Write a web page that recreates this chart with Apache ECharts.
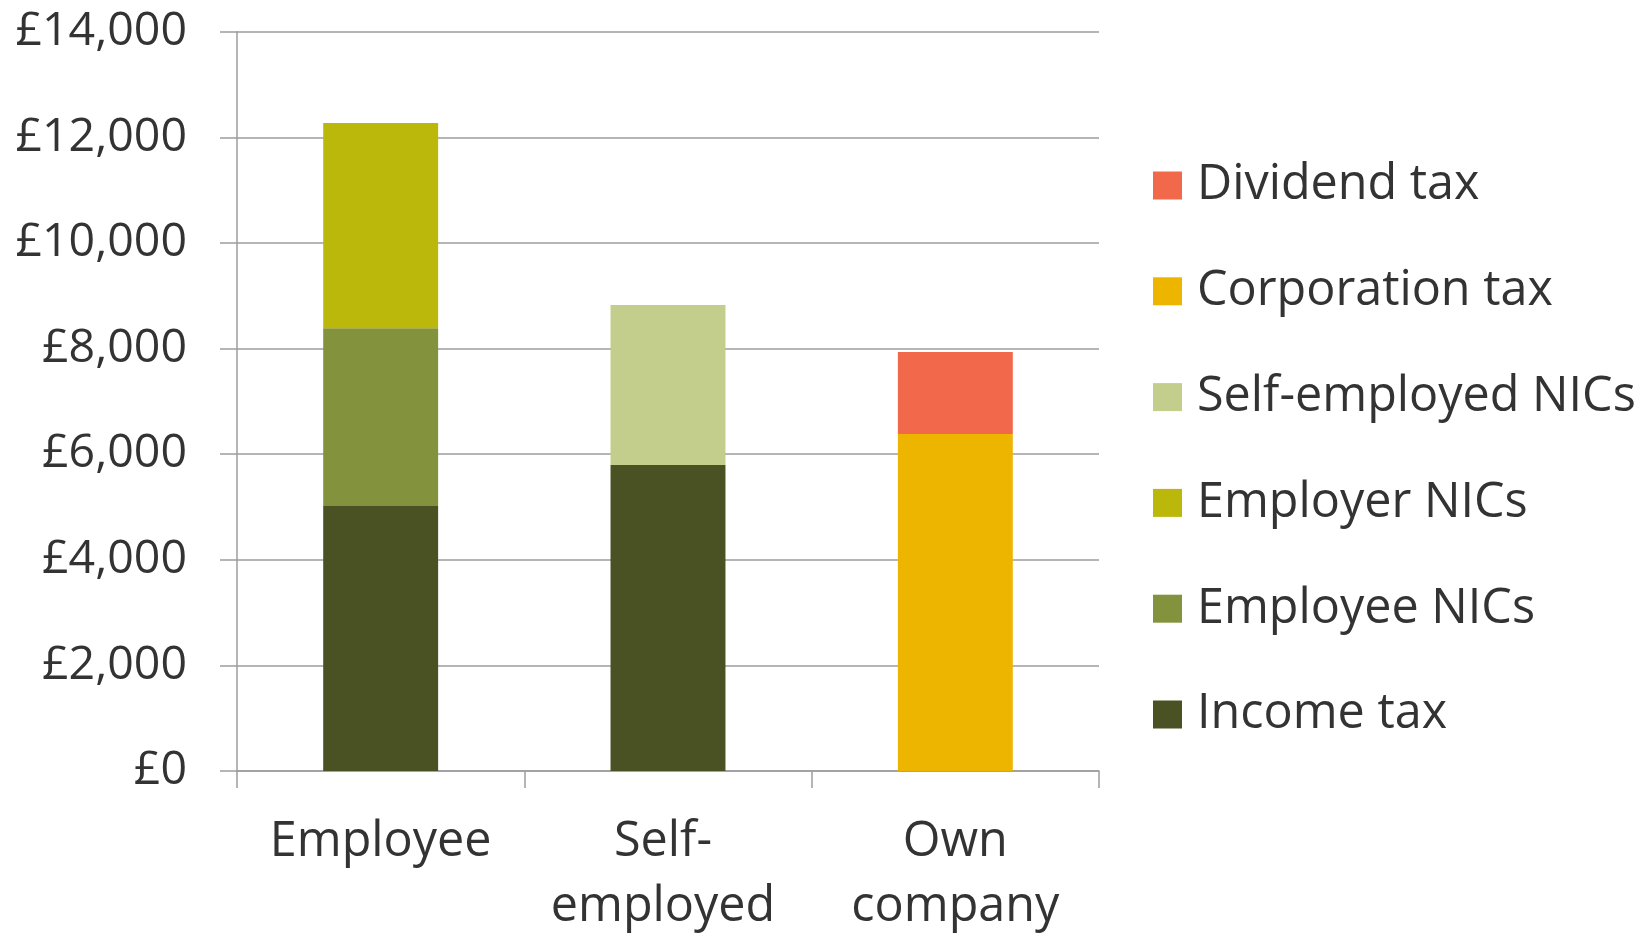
<!DOCTYPE html>
<html>
<head>
<meta charset="utf-8">
<script src="https://cdn.jsdelivr.net/npm/echarts@6/dist/echarts.min.js"></script>
<style>
html,body{margin:0;padding:0;background:#fff;}
#chart{width:1651px;height:933px;}
</style>
</head>
<body>
<div id="chart"></div>
<script>
const categories = ['Employee', 'Self-\nemployed', 'Own\ncompany'];
const seriesNames = ['Income tax', 'Employee NICs', 'Employer NICs', 'Self-employed NICs', 'Corporation tax', 'Dividend tax'];
const incomeTax = [5020, 5795, null];
const employeeNICs = [3365, null, null];
const employerNICs = [3885, null, null];
const selfEmployedNICs = [null, 3030, null];
const corporationTax = [null, null, 6380];
const dividendTax = [null, null, 1555];
const yTicks = { min: 0, max: 14000, interval: 2000 };

const colors = ['#4A5123', '#83923C', '#BCB80B', '#C4CE8C', '#EDB500', '#F1684B'];
const seriesData = [incomeTax, employeeNICs, employerNICs, selfEmployedNICs, corporationTax, dividendTax];

const font = 'Open Sans';
const textColor = '#333333';
const axisGray = '#9d9d9d';

const categoryItems = categories.map((c, i) => i === 1
  ? { value: c, textStyle: { padding: [0, 10, 0, 0] } }
  : c);

const chart = echarts.init(document.getElementById('chart'), null, { renderer: 'canvas' });
chart.setOption({
  animation: false,
  backgroundColor: '#ffffff',
  grid: { left: 237, right: 552, top: 31.7, bottom: 162, containLabel: false, outerBoundsMode: 'none' },
  legend: {
    orient: 'vertical',
    left: 1148,
    top: 156,
    itemWidth: 29,
    itemHeight: 28,
    itemGap: 56.8,
    icon: 'rect',
    data: seriesNames.slice().reverse(),
    textStyle: { fontFamily: font, fontSize: 48.5, color: textColor, lineHeight: 46, padding: [0, 0, 0, 10] },
    selectedMode: false
  },
  xAxis: {
    type: 'category',
    data: categoryItems,
    axisLine: { show: true, lineStyle: { color: axisGray, width: 1.5 } },
    axisTick: { show: true, alignWithLabel: false, length: 17, lineStyle: { color: axisGray, width: 1.5 } },
    axisLabel: { fontFamily: font, fontSize: 48.5, color: textColor, lineHeight: 65, margin: 39, interval: 0 },
    splitLine: { show: false }
  },
  yAxis: {
    type: 'value',
    min: yTicks.min,
    max: yTicks.max,
    interval: yTicks.interval,
    axisLine: { show: true, lineStyle: { color: axisGray, width: 1.5 } },
    axisTick: { show: true, length: 17, lineStyle: { color: axisGray, width: 1.5 } },
    splitLine: { show: true, lineStyle: { color: axisGray, width: 1.5 } },
    axisLabel: {
      fontFamily: font, fontSize: 46.5, color: textColor, margin: 50,
      formatter: v => '£' + v.toLocaleString('en-GB')
    }
  },
  series: seriesNames.map((name, i) => ({
    name: name,
    type: 'bar',
    stack: 'total',
    barWidth: '40%',
    data: seriesData[i],
    itemStyle: { color: colors[i] },
    emphasis: { disabled: true }
  }))
});
</script>
</body>
</html>
